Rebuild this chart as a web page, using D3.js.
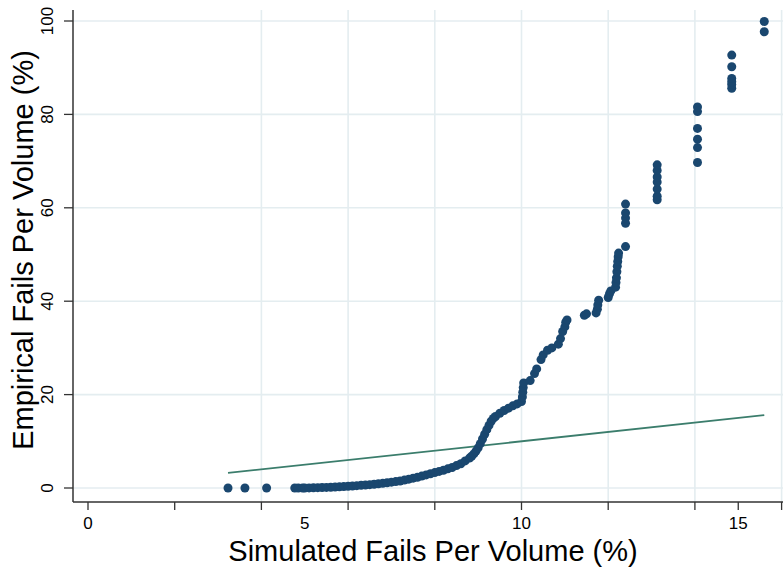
<!DOCTYPE html>
<html>
<head>
<meta charset="utf-8">
<script src="https://cdn.jsdelivr.net/npm/d3@7"></script>
<style>
  html, body { margin: 0; padding: 0; background: #ffffff; }
  svg { display: block; }
  text { font-family: "Liberation Sans", Arial, Helvetica, sans-serif; fill: #000; }
</style>
</head>
<body>
<svg id="chart" width="783" height="569"></svg>
<script>
// ---- Data ----
const simX = [3.23, 3.62, 4.12, 4.77, 4.85,
  4.95, 5.0, 5.1, 5.2, 5.3, 5.4, 5.5, 5.6, 5.7, 5.8, 5.9, 6.0, 6.1, 6.2, 6.3, 6.4, 6.5,
  6.6, 6.7, 6.8, 6.9, 7.0, 7.1, 7.2, 7.3, 7.4, 7.5, 7.6, 7.7, 7.8, 7.9, 8.0, 8.1, 8.2,
  8.3, 8.4, 8.5, 8.6, 8.7, 8.8, 8.85, 8.9, 8.95, 9.0, 9.05, 9.1, 9.15, 9.2, 9.25, 9.3,
  9.35, 9.4, 9.5, 9.6, 9.7, 9.8, 9.9, 10.0,
  10.02, 10.03, 10.04, 10.05, 10.2, 10.3, 10.35, 10.45, 10.5, 10.6, 10.7, 10.85, 10.9,
  10.95, 11.0, 11.02, 11.05,
  11.45, 11.5, 11.72, 11.75, 11.76, 11.78, 12.0, 12.03, 12.06,
  12.17, 12.18, 12.19, 12.2, 12.21, 12.22, 12.23, 12.24,
  12.4, 12.4, 12.4, 12.4, 12.4,
  13.13, 13.13, 13.13, 13.13, 13.13, 13.13, 13.13,
  14.06, 14.06, 14.06, 14.06, 14.06, 14.06,
  14.85, 14.85, 14.85, 14.85, 14.85, 14.85,
  15.6, 15.6];
const empY = [0, 0, 0, 0, 0,
  0, 0, 0.02, 0.05, 0.07, 0.1, 0.12, 0.15, 0.2, 0.25, 0.3, 0.35, 0.42, 0.5, 0.57, 0.65, 0.72,
  0.8, 0.9, 1.0, 1.12, 1.25, 1.37, 1.5, 1.7, 1.9, 2.1, 2.3, 2.55, 2.8, 3.05, 3.3, 3.55, 3.8,
  4.1, 4.4, 4.8, 5.2, 5.8, 6.4, 6.8, 7.3, 7.9, 8.6, 9.5, 10.5, 11.5, 12.5, 13.4, 14.3,
  14.9, 15.3, 16.0, 16.6, 17.1, 17.6, 18.0, 18.5,
  19.5, 20.5, 21.5, 22.5, 23.0, 24.5, 25.5, 27.5, 28.5, 29.5, 30.0, 30.8, 32.0,
  33.5, 34.5, 35.5, 36.0,
  37.0, 37.3, 37.5, 38.3, 39.2, 40.2, 40.8, 41.6, 42.2,
  43.0, 44.0, 45.0, 46.3, 47.5, 48.5, 49.5, 50.3,
  51.7, 56.7, 57.8, 58.9, 60.8,
  61.7, 62.5, 64.0, 65.5, 66.6, 68.0, 69.2,
  69.7, 72.9, 74.7, 77.0, 80.6, 81.6,
  85.6, 86.4, 87.0, 87.7, 90.2, 92.7,
  97.7, 99.9];
// reference line (y = x) spans the range of the simulated quantiles
const refLine = [[3.23, 3.23], [15.6, 15.6]];

const xLabelTicks = [0, 5, 10, 15];
const xMinorTicks = [2, 4, 6, 8, 10, 12, 14, 15, 16];
const xGrid = [4, 6, 8, 10, 12, 14, 16];
const yTicks = [0, 20, 40, 60, 80, 100];

const xTitle = "Simulated Fails Per Volume (%)";
const yTitle = "Empirical Fails Per Volume (%)";

// ---- Layout ----
const svg = d3.select("#chart");
const plotLeft = 73, plotRight = 783, plotTop = 10, plotBottom = 502;
const x = d3.scaleLinear().domain([0, 16]).range([88, 781.6]);
const y = d3.scaleLinear().domain([0, 100]).range([488, 21]);

const gridColor = "#e4edf0";
const axisColor = "#333333";
const pointColor = "#1a476f";
const lineColor = "#3b7d6c";

// grid lines
svg.append("g").selectAll("line").data(yTicks).join("line")
  .attr("x1", plotLeft).attr("x2", plotRight)
  .attr("y1", d => y(d)).attr("y2", d => y(d))
  .attr("stroke", gridColor).attr("stroke-width", 1.6);
svg.append("g").selectAll("line").data(xGrid).join("line")
  .attr("x1", d => x(d)).attr("x2", d => x(d))
  .attr("y1", plotTop).attr("y2", plotBottom)
  .attr("stroke", gridColor).attr("stroke-width", 1.6);

// reference line
svg.append("line")
  .attr("x1", x(refLine[0][0])).attr("y1", y(refLine[0][1]))
  .attr("x2", x(refLine[1][0])).attr("y2", y(refLine[1][1]))
  .attr("stroke", lineColor).attr("stroke-width", 1.8);

// points
svg.append("g").selectAll("circle").data(d3.range(simX.length)).join("circle")
  .attr("cx", i => x(simX[i])).attr("cy", i => y(empY[i]))
  .attr("r", 4.5).attr("fill", pointColor);

// x axis
const xAxisG = svg.append("g");
xAxisG.append("line").attr("x1", plotLeft).attr("x2", plotRight)
  .attr("y1", plotBottom).attr("y2", plotBottom)
  .attr("stroke", axisColor).attr("stroke-width", 1.5);
xAxisG.selectAll("line.tk").data(xMinorTicks.concat([0])).join("line").attr("class", "tk")
  .attr("x1", d => x(d)).attr("x2", d => x(d))
  .attr("y1", plotBottom).attr("y2", plotBottom + 8)
  .attr("stroke", axisColor).attr("stroke-width", 1.3);
xAxisG.selectAll("text").data(xLabelTicks).join("text")
  .attr("x", d => x(d)).attr("y", 529)
  .attr("text-anchor", "middle").attr("font-size", 17)
  .text(d => d);

// y axis
const yAxisG = svg.append("g");
yAxisG.append("line").attr("x1", plotLeft).attr("x2", plotLeft)
  .attr("y1", plotTop).attr("y2", plotBottom)
  .attr("stroke", axisColor).attr("stroke-width", 1.5);
yAxisG.selectAll("line.tk").data(yTicks).join("line").attr("class", "tk")
  .attr("x1", plotLeft - 9).attr("x2", plotLeft)
  .attr("y1", d => y(d)).attr("y2", d => y(d))
  .attr("stroke", axisColor).attr("stroke-width", 1.3);
yAxisG.selectAll("text").data(yTicks).join("text")
  .attr("transform", d => `translate(53,${y(d)}) rotate(-90)`)
  .attr("text-anchor", "middle").attr("font-size", 17)
  .text(d => d);

// titles
svg.append("text").attr("x", 433).attr("y", 561)
  .attr("text-anchor", "middle").attr("font-size", 29).text(xTitle);
svg.append("text").attr("transform", "translate(33,250) rotate(-90)")
  .attr("text-anchor", "middle").attr("font-size", 29).text(yTitle);
</script>
</body>
</html>
